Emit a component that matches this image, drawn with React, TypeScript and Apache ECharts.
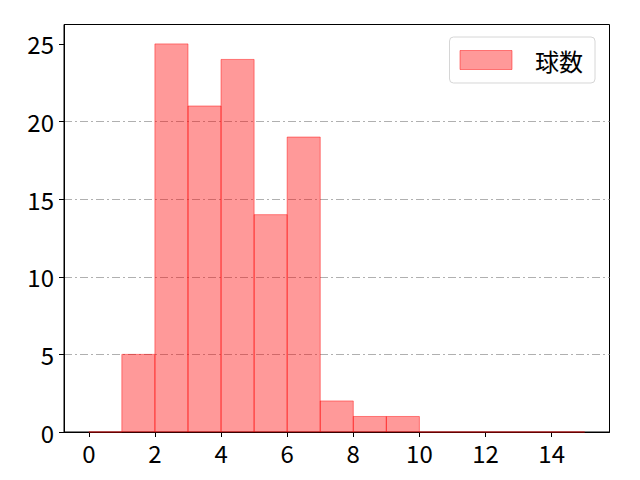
import { useEffect, useRef } from "react";
import * as echarts from "echarts";

// histogram bins: [start, end) with count
const binStarts = [0, 1, 2, 3, 4, 5, 6, 7, 8, 9, 10, 11, 12, 13, 14];
const binEnds = [1, 2, 3, 4, 5, 6, 7, 8, 9, 10, 11, 12, 13, 14, 15];
const counts = [0, 5, 25, 21, 24, 14, 19, 2, 1, 1, 0, 0, 0, 0, 0];

const xTicks = [0, 2, 4, 6, 8, 10, 12, 14];
const yTicks = [0, 5, 10, 15, 20, 25];

const seriesName = "球数";

const FONT = "'Noto Sans CJK JP', 'Noto Sans', sans-serif";
const FILL = "rgba(255, 0, 0, 0.4)";
const EDGE = "rgba(255, 0, 0, 0.45)";

export default function App() {
  const containerRef = useRef<HTMLDivElement | null>(null);

  useEffect(() => {
    document.body.style.margin = "0";
    if (!containerRef.current) {
      return;
    }

    const chart = echarts.init(containerRef.current, undefined, { renderer: "svg" });

    const data = binStarts.map((start, i) => [start, binEnds[i], counts[i]]);

    const option: echarts.EChartsOption = {
      animation: false,
      backgroundColor: "#ffffff",
      grid: {
        left: 64,
        right: 30.5,
        top: 24.5,
        bottom: 48,
        show: true,
        borderColor: "#000000",
        borderWidth: 1,
        backgroundColor: "transparent",
      },
      legend: {
        right: 45,
        top: 37,
        padding: [11, 12, 11, 10],
        itemWidth: 52,
        itemHeight: 19,
        borderColor: "#d6d6d6",
        borderWidth: 1,
        borderRadius: 4,
        backgroundColor: "rgba(255,255,255,0.8)",
        textStyle: {
          fontFamily: FONT,
          fontSize: 24,
          color: "#000000",
          padding: [0, 0, 0, 18],
        },
        data: [
          {
            name: seriesName,
            icon: "rect",
            itemStyle: { color: FILL, borderColor: EDGE, borderWidth: 1 },
          },
        ],
      },
      xAxis: {
        type: "value",
        min: -0.75,
        max: 15.75,
        axisLine: { show: true, onZero: false, lineStyle: { color: "#000000", width: 1 } },
        axisTick: {
          show: true,
          length: 5,
          lineStyle: { color: "#000000", width: 1 },
          customValues: xTicks,
        },
        axisLabel: {
          color: "#000000",
          fontFamily: FONT,
          fontSize: 24,
          margin: 8,
          customValues: xTicks,
        },
        splitLine: { show: false },
      },
      yAxis: {
        type: "value",
        min: 0,
        max: 26.25,
        interval: 5,
        axisLine: { show: true, onZero: false, lineStyle: { color: "#000000", width: 1 } },
        axisTick: {
          show: true,
          length: 5,
          lineStyle: { color: "#000000", width: 1 },
          customValues: yTicks,
        },
        axisLabel: {
          color: "#000000",
          fontFamily: FONT,
          fontSize: 24,
          margin: 10,
          customValues: yTicks,
        },
        splitLine: {
          show: true,
          showMinLine: false,
          showMaxLine: false,
          lineStyle: { color: "#b0b0b0", width: 1, type: [8, 3, 2, 3] },
        },
      },
      series: [
        {
          name: seriesName,
          type: "custom",
          itemStyle: { color: FILL },
          encode: { x: [0, 1], y: 2 },
          renderItem: (params, api) => {
            const base = api.coord([api.value(0), 0]);
            const top = api.coord([api.value(1), api.value(2)]);
            return {
              type: "rect",
              shape: {
                x: base[0],
                y: top[1],
                width: top[0] - base[0],
                height: base[1] - top[1],
              },
              style: { fill: FILL, stroke: EDGE, lineWidth: 1 },
            };
          },
          data,
        },
      ],
    };

    chart.setOption(option);

    return () => {
      chart.dispose();
    };
  }, []);

  return <div ref={containerRef} style={{ width: 640, height: 480 }} />;
}
